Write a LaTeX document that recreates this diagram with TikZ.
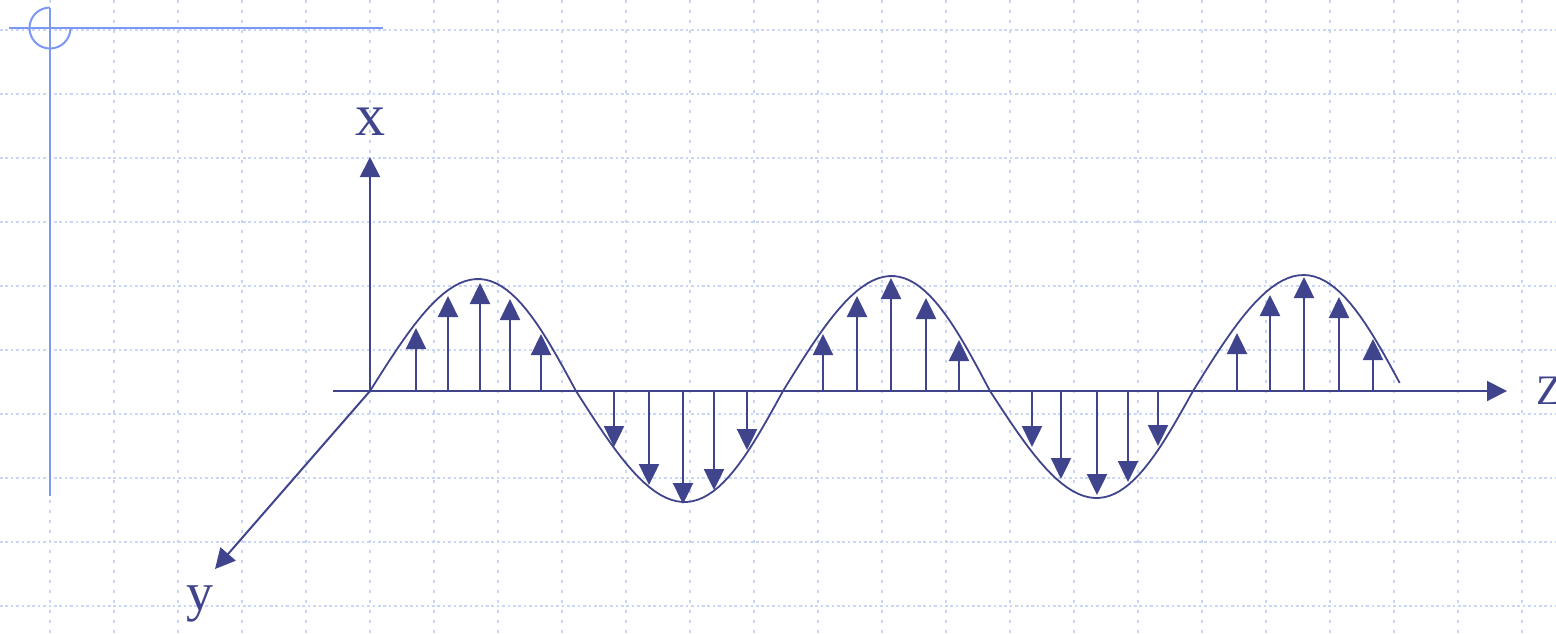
\documentclass[tikz,border=0pt]{standalone}
\usepackage{fontspec}
\setmainfont{Liberation Serif}
\usetikzlibrary{arrows.meta,positioning}
\definecolor{wvblue}{HTML}{40448C}
\definecolor{wvgrid}{HTML}{C8D6F8}
\definecolor{wvdeco}{HTML}{7C98F4}

\begin{document}
\begin{tikzpicture}[
  x=0.5pt, y=-0.5pt,
  gridh/.style={wvgrid, line width=1pt, dash pattern=on 1.3pt off 1.4pt},
  gridv/.style={wvgrid, line width=1pt, dash pattern=on 1.5pt off 3.5pt},
  deco/.style={wvdeco, line width=1pt},
  axis/.style={wvblue, line width=1pt, -{Triangle[length=10pt, width=10pt]}},
  vec/.style={wvblue, line width=1.2pt, -{Triangle[length=10.5pt, width=10pt]}},
  wave/.style={wvblue, line width=0.9pt},
  axlbl/.style={text=wvblue, inner sep=0pt},
]
\useasboundingbox (0,0) rectangle (1556,634);

%% Hintergrundraster
\foreach \gy in {0,...,9}
  \draw[gridh] (0,30+64*\gy) -- (1556,30+64*\gy);
\foreach \gx in {0,...,23}
  \draw[gridv] (50+64*\gx,0) -- (50+64*\gx,634);

%% Folienschmuck links oben
\coordinate (dc) at (50,28);
\draw[deco] (50,8) -- (50,496);
\draw[deco] (9,28) -- (383,28);
\draw[deco] (dc) ++(0,-20.5) arc[start angle=90, end angle=360, radius=10.25pt];

%% Achsen
\coordinate (O)     at (370,391);
\coordinate (xtip)  at (370,157);
\coordinate (ztail) at (333,391);
\coordinate (ztip)  at (1507,391);
\coordinate (ytip)  at (215,569);
\draw[axis] (O) -- (xtip);
\draw[axis] (ztail) -- (ztip);
\draw[axis] (O) -- (ytip);

\node[axlbl, font=\fontsize{30}{30}\selectfont, above=10.5pt of xtip] (xlbl) {x};
\node[axlbl, font=\fontsize{21}{21}\selectfont, right=14.5pt of ztip] (zlbl) {Z};
\node[axlbl, font=\fontsize{27}{27}\selectfont, below=8pt of ytip, xshift=-7.5pt] (ylbl) {y};

%% Welle
\foreach \za/\zb/\amp in {370/576/112, 576/783/-111, 783/990/115, 990/1193/-107}
  \draw[wave] plot[domain=0:180, samples=40]
    ({\za+(\zb-\za)/180*\x+5*sin(\x)}, {391-\amp*sin(\x)});
\draw[wave] plot[domain=0:176, samples=40]
  ({1193+211/180*\x+5*sin(\x)}, {391-116*sin(\x)});

%% Feldvektoren
\foreach \vx/\vy [count=\i] in {416/328, 448/296, 480/283, 510/299, 541/334,
    614/447, 649/485, 683/504, 714/490, 747/450,
    823/334, 857/296, 891/278, 926/298, 959/340,
    1032/447, 1061/479, 1097/495, 1128/482, 1158/446,
    1237/333, 1270/295, 1304/277, 1339/297, 1373/339} {
  \coordinate (vb\i) at (\vx,391);
  \coordinate (vt\i) at (\vx,\vy);
  \draw[vec] (vb\i) -- (vt\i);
}

\end{tikzpicture}
\end{document}
